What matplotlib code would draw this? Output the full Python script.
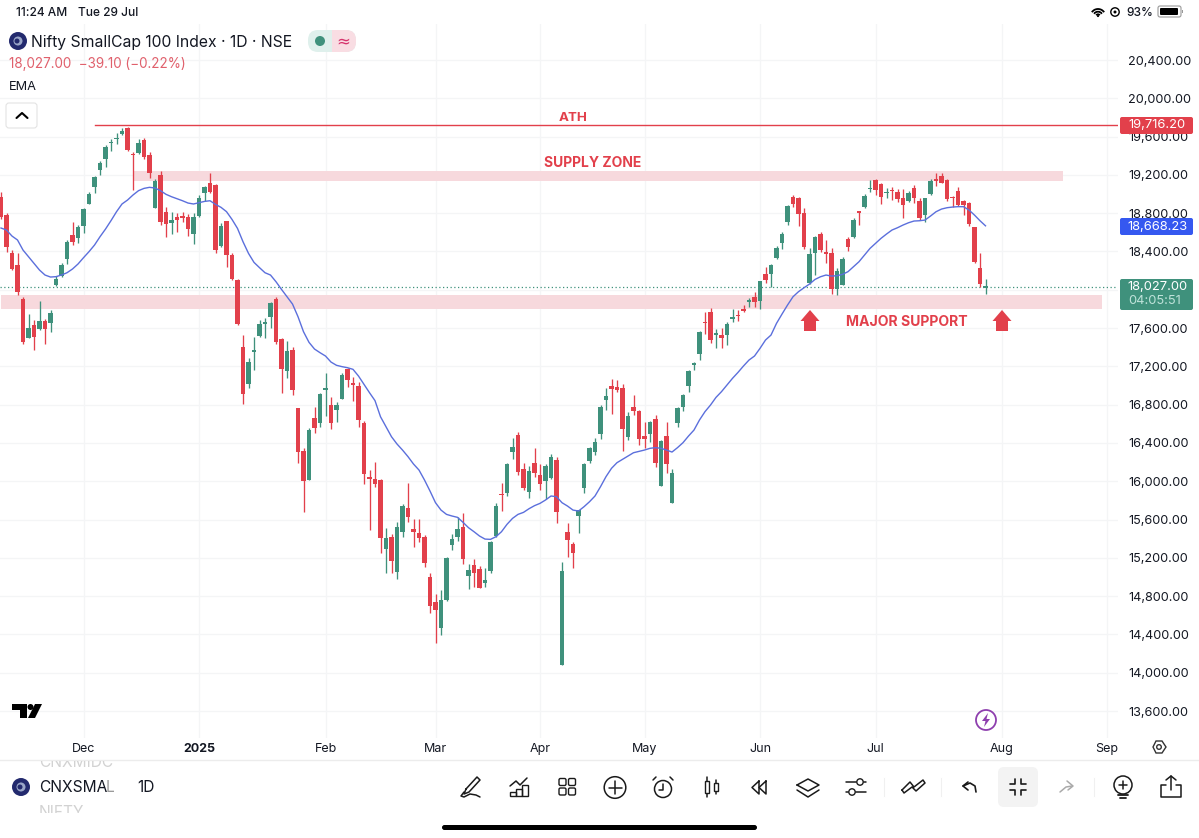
import matplotlib
matplotlib.use("Agg")
import matplotlib.pyplot as plt
from matplotlib.patches import Rectangle, FancyBboxPatch, Circle, Polygon, Arc
from matplotlib.transforms import Bbox

plt.rcParams['font.family'] = ['Inter', 'DejaVu Sans']

# daily candles
opens = [18972,18781,18387,18258,17900,17499,17632,17586,17670,17649,
         18049,18147,18318,18572,18540,18666,18899,19070,19251,19369,
         19529,19571,19627,19690,19421,19425,19561,19407,18857,19195,
         18816,18701,18763,18767,18760,18586,18774,19014,19112,19094,
         18460,18715,18363,18098,17402,17012,17350,17517,17639,17719,
         17903,17485,17155,17367,16761,16312,16016,16664,16612,16953,
         16793,16748,16859,17169,17016,16995,16612,16034,16020,16013,
         15289,15417,15055,15470,15724,15501,15459,15421,15003,14735,
         14463,14759,15334,15414,15522,15007,15125,15087,14937,15062,
         15428,15863,15880,16305,16483,16131,15891,16190,16062,16002,
         16030,16218,14080,15466,15344,15640,15929,16211,16309,16490,
         16848,16995,16981,16970,16462,16772,16737,16472,16497,16647,
         15954,16472,15769,16612,16779,16995,17211,17329,17663,17768,
         17524,17531,17527,17698,17736,17792,17876,17921,17886,18164,
         18164,18328,18484,18704,18965,18955,18805,18070,18384,18582,
         18390,18380,18004,18053,18526,18554,18815,18868,19052,19146,
         19101,19007,19045,19021,18955,18923,19063,18923,18780,19000,
         19146,19191,19146,18972,19035,18930,18909,18652,18230,18021]
highs = [19025,18798,18415,18380,17928,17743,17684,17886,17691,17788,
         18147,18283,18520,18704,18676,18850,19025,19192,19348,19512,
         19575,19634,19693,19696,19442,19571,19589,19435,19153,19237,
         18861,18816,18805,18816,18788,18805,18990,19084,19216,19105,
         18694,18722,18387,18109,17524,17290,17503,17684,17701,17875,
         17928,17492,17465,17405,16768,16344,16553,16772,16918,17127,
         16876,16831,17134,17179,17092,17040,16626,16117,16204,16023,
         15508,15445,15571,15759,15978,15602,15602,15438,15045,14822,
         14864,15205,15449,15623,15665,15132,15184,15118,15090,15376,
         15776,15978,16194,16455,16518,16194,16159,16347,16176,16176,
         16281,16250,15160,15560,15362,15699,16194,16361,16448,16796,
         16977,17064,17057,17012,16727,16897,16744,16615,16629,16692,
         16431,16622,16124,16779,16911,17162,17249,17569,17764,17810,
         17594,17601,17663,17799,17789,17841,17910,17973,18095,18234,
         18269,18457,18606,18885,18989,18972,18857,18432,18561,18606,
         18519,18432,18223,18338,18554,18746,18822,18996,19146,19153,
         19111,19059,19069,19052,19052,19031,19090,18962,18962,19153,
         19216,19223,19153,18979,19069,18937,18920,18659,18387,18112]
lows = [18735,18398,18206,17945,17430,17492,17370,17579,17433,17562,
        18043,18137,18269,18467,18485,18596,18892,19007,19202,19286,
        19453,19519,19613,19449,19042,19418,19369,19164,18850,18673,
        18547,18582,18607,18704,18561,18474,18756,18927,19014,18387,
        18450,18241,18102,17632,16810,16970,17162,17510,17492,17604,
        17430,16918,17082,16904,16187,15682,16009,16507,16570,16681,
        16546,16615,16855,16988,16838,16566,15971,15490,15943,15254,
        15045,15038,14975,15421,15571,15316,15369,15101,14620,14307,
        14394,14752,15278,15379,15132,14871,14899,14881,14892,15045,
        15414,15689,15846,16232,16062,15908,15821,16048,15908,15811,
        16023,15560,14080,15212,15097,15456,15874,16194,16274,16445,
        16744,16699,16936,16319,16427,16695,16382,16351,16413,16152,
        15950,16089,15769,16566,16734,16929,17158,17263,17534,17447,
        17395,17395,17423,17667,17674,17764,17816,17816,17795,18067,
        18025,18321,18425,18676,18861,18666,18429,18063,18154,18397,
        18276,17955,17945,18049,18408,18544,18676,18857,19024,18989,
        18899,18962,18937,18920,18753,18916,18909,18728,18704,18993,
        19087,19111,18930,18868,18878,18780,18669,18276,18032,17952]
closes = [18756,18443,18220,17980,17458,17597,17503,17670,17593,17754,
          18112,18258,18502,18502,18652,18843,19000,19174,19327,19488,
          19540,19585,19658,19460,19407,19529,19390,19223,19136,18708,
          18683,18725,18725,18753,18634,18763,18962,19077,19024,18415,
          18669,18359,18109,17642,16914,17249,17360,17639,17666,17865,
          17451,17169,17360,16956,16305,16006,16539,16553,16908,16974,
          16612,16796,17106,17054,17009,16643,16072,16027,15971,15403,
          15410,15167,15522,15741,15630,15470,15403,15149,14700,14655,
          14756,15198,15393,15497,15191,15069,15038,14888,14965,15369,
          15738,15856,16180,16361,16100,15933,16110,16089,15975,16163,
          16250,15675,15062,15383,15247,15699,16180,16351,16406,16775,
          16890,16963,16953,16546,16678,16730,16441,16438,16615,16187,
          16417,16180,16082,16768,16904,17148,17238,17562,17649,17479,
          17545,17496,17642,17709,17722,17782,17890,17876,18095,18105,
          18258,18432,18585,18871,18892,18791,18450,18370,18547,18411,
          18373,18007,18192,18317,18443,18728,18805,18979,19066,19042,
          18972,19017,19031,18944,18888,19007,18958,18746,18955,19136,
          19136,19118,18948,18958,18885,18885,18683,18293,18056,18028]
ema = [18645,18624,18561,18520,18415,18345,18276,18206,18154,18133,
       18137,18154,18178,18217,18269,18335,18398,18467,18554,18634,
       18722,18815,18896,18937,18990,19035,19059,19070,19063,19035,
       18997,18972,18951,18930,18906,18896,18910,18923,18930,18892,
       18861,18816,18735,18641,18502,18380,18286,18231,18178,18154,
       18084,18004,17928,17851,17719,17562,17451,17381,17343,17308,
       17245,17211,17197,17186,17169,17099,17012,16925,16842,16674,
       16570,16465,16389,16326,16257,16180,16117,16013,15898,15776,
       15699,15654,15637,15623,15571,15515,15473,15428,15396,15393,
       15421,15473,15550,15612,15654,15675,15713,15745,15769,15804,
       15846,15839,15776,15741,15699,15689,15734,15786,15846,15943,
       16048,16135,16194,16229,16263,16298,16312,16326,16344,16351,
       16344,16326,16305,16351,16403,16472,16535,16640,16727,16796,
       16876,16936,17005,17075,17137,17204,17266,17308,17388,17475,
       17527,17649,17746,17840,17927,17980,18021,18060,18108,18136,
       18154,18143,18147,18161,18189,18241,18293,18363,18432,18484,
       18537,18582,18624,18648,18676,18700,18718,18721,18728,18770,
       18815,18843,18857,18864,18868,18868,18833,18780,18721,18668]

month_bars = [15, 36, 59, 79, 98, 117, 138, 159, 182, 201]
month_labels = ['Dec', '2025', 'Feb', 'Mar', 'Apr', 'May', 'Jun', 'Jul', 'Aug', 'Sep']
price_ticks = list(range(13600, 20800, 400))
ath = 19716.20
last_price = 18027.00

GREEN = '#3f917c'
RED = '#e2404b'
ZONE = '#f7d9dd'
BLUE = '#5b6fdc'
INK = '#131722'
GRID = '#f4f5f6'
W, H = 1199, 838

fig = plt.figure(figsize=(W / 100, H / 100), dpi=100, facecolor='white')
# price pane: 5.5 px per bar, 10.445 points per px
ax = fig.add_axes([0, 1 - 738 / H, 1118 / W, (738 - 24) / H])
ax.set_xlim(-1 / 5.5, 1117 / 5.5)
ax.set_ylim(20400 - 678 * 10.445, 20400 + 36 * 10.445)
for s in ax.spines.values():
    s.set_visible(False)
ax.set_axisbelow(True)
ax.grid(True, color=GRID, lw=0.9)
ax.yaxis.tick_right()
ax.set_yticks(price_ticks)
# 18,000 sits under the last price tag
ax.set_yticklabels(['' if p == 18000 else f'{p:,.2f}' for p in price_ticks], fontsize=9.1, color=INK)
ax.set_xticks(month_bars)
ax.set_xticklabels(month_labels, fontsize=9, color=INK)
ax.get_xticklabels()[1].set_fontweight('bold')
ax.tick_params(axis='y', length=0, pad=7.5)
ax.tick_params(axis='x', length=0, pad=3.5)

# zones and levels
ax.add_patch(Rectangle((24, 19133), 169, 107, fc=ZONE, ec='none', zorder=1))
ax.add_patch(Rectangle((0, 17799), 200.2, 146, fc=ZONE, ec='none', zorder=1))
ax.plot([17, 203.1], [ath, ath], color=RED, lw=1.0, zorder=2)
ax.axhline(last_price, color=GREEN, lw=0.9, ls=(0, (1, 2)), zorder=2)

# candles
bars = list(range(len(opens)))
colors = [GREEN if c >= o else RED for o, c in zip(opens, closes)]
ax.vlines(bars, lows, highs, colors=colors, lw=0.95, zorder=3)
bottoms = [min(o, c) for o, c in zip(opens, closes)]
heights = [max(abs(c - o), 16) for o, c in zip(opens, closes)]
ax.bar(bars, heights, bottom=bottoms, width=0.8, color=colors, lw=0, zorder=4)
ax.plot(bars, ema, color=BLUE, lw=1.0, zorder=5)

ax.text(104, 19790, 'ATH', color=RED, fontsize=9.6, fontweight='bold', ha='center', va='center')
ax.text(107.5, 19320, 'SUPPLY ZONE', color=RED, fontsize=10, fontweight='bold', ha='center', va='center')
ax.text(164.7, 17663, 'MAJOR SUPPORT', color=RED, fontsize=10.1, fontweight='bold', ha='center', va='center')

# everything around the chart sits on a pixel overlay
ui = fig.add_axes([0, 0, 1, 1], facecolor='none')
ui.set_xlim(0, W)
ui.set_ylim(H, 0)
ui.axis('off')

def label(x, y, s, size=9.5, color=INK, ha='left', **kw):
    return ui.text(x, y, s, fontsize=size, color=color, ha=ha, va='center', **kw)

def stroke(xs, ys, lw=1.1, color='#1a1a1a'):
    ui.plot(xs, ys, color=color, lw=lw, solid_capstyle='round', solid_joinstyle='round')

def box(x, y, w, h, fc, ec='none', r=2, lw=0.8):
    ui.add_patch(FancyBboxPatch((x + r, y + r), w - 2 * r, h - 2 * r, boxstyle=f'round,pad={r}',
                                fc=fc, ec=ec, lw=lw))

def logo(x, y):
    ui.add_patch(Circle((x, y), 9, fc='#232a6e', ec='none'))
    ui.add_patch(Circle((x, y), 4.5, fc='#9aa6c8', ec='none'))
    ui.add_patch(Circle((x - 1, y), 2.5, fc='#232a6e', ec='none'))

def clip_rows(text, top, bottom):
    # top and bottom in picture pixels from the top edge
    text.set_clip_box(Bbox([[0, H - bottom], [W, H - top]]))
    text.set_clip_on(True)

# support arrows
for mid in (810, 1002):
    ui.add_patch(Polygon([(mid, 310), (mid + 9.5, 321), (mid + 6, 321), (mid + 6, 331),
                          (mid - 6, 331), (mid - 6, 321), (mid - 9.5, 321)], fc=RED, ec='none'))

# status bar
label(16, 12.5, '11:24 AM', 8.6, fontweight='medium')
label(78, 12.5, 'Tue 29 Jul', 8.6, fontweight='medium')
label(1126, 12.5, '93%', 8.6, fontweight='medium')
for r in (7.5, 4.8, 2.2):
    ui.add_patch(Arc((1098, 16.5), 2 * r, 2 * r, theta1=215, theta2=325, color='black', lw=1.3))
ui.add_patch(Circle((1098, 16), 1.1, fc='black', ec='none'))
ui.add_patch(Circle((1115, 12), 4.2, fc='white', ec='black', lw=1))
ui.add_patch(Circle((1115, 12), 1.5, fc='black', ec='none'))
box(1158, 6, 23, 11, 'white', '#999999', r=2)
box(1160, 8, 18, 7, 'black', r=1)
ui.add_patch(Rectangle((1181.5, 10), 1, 3, fc='#999999', ec='none'))

# header
logo(18, 41)
label(31, 42, 'Nifty SmallCap 100 Index · 1D · NSE', 11.3)
box(308, 30, 48, 22, '#dff0ec', r=10)
box(332, 30, 24, 22, '#f9dde3', r=10)
ui.add_patch(Rectangle((332, 30), 10, 22, fc='#f9dde3', ec='none'))
ui.add_patch(Circle((320, 41), 5, fc=GREEN, ec='none'))
label(343, 41, '≈', 12, '#d6336c', ha='center', family=['DejaVu Sans'])
label(9, 64, '18,027.00  −39.10 (−0.22%)', 9.7, '#e0606c')
label(9, 87, 'EMA', 9.2)
box(6, 103, 31, 25, 'white', '#e3e3e3', r=3)
stroke([16.5, 22, 27.5], [118, 113, 118], lw=1.5, color='black')

# price tags
box(1120, 117, 73, 17, RED)
label(1157, 125.5, '19,716.20', 9.3, 'white', ha='center')
box(1120, 218, 73, 17, '#3558f0')
label(1157, 226.5, '18,668.23', 9.3, 'white', ha='center')
box(1120, 279, 73, 31, GREEN)
label(1157, 287, '18,027.00', 9.3, 'white', ha='center')
label(1128, 301, '04:05:51', 9.3, '#bfe3da')

# tradingview mark, alert, settings
ui.add_patch(Polygon([(12, 704), (27, 704), (27, 718), (20, 718), (20, 710), (12, 710)], fc='black', ec='none'))
ui.add_patch(Circle((30.5, 707), 3, fc='black', ec='none'))
ui.add_patch(Polygon([(35, 704), (42, 704), (35, 718), (28, 718)], fc='black', ec='none'))
ui.add_patch(Circle((986, 720), 10, fc='white', ec='#8e3fae', lw=1.3))
ui.add_patch(Polygon([(988, 713), (982, 721), (985.5, 721), (984, 727), (990, 719), (986.5, 719)], fc='#8e3fae', ec='none'))
ui.add_patch(Polygon([(1153, 747), (1156, 741), (1162, 741), (1166, 747), (1162, 753), (1156, 753)],
                     fc='white', ec='#333333', lw=1))
ui.add_patch(Circle((1159, 747), 2.3, fc='white', ec='#333333', lw=1))

# bottom toolbar
ui.plot([0, W], [760, 760], color='#ececec', lw=1)
for sep in (884, 941, 1094):
    ui.plot([sep, sep], [778, 796], color='#f0f0f0', lw=0.8)
logo(21, 787)
label(39, 787, 'CNXSMA', 11.2)
label(106, 787, 'L', 11.2, '#9a9a9a')
label(137, 787, '1D', 11.2)
# neighbouring rows of the symbol wheel, cut off by its edges
clip_rows(label(39, 762, 'CNXMIDC', 11.2, '#d2d2d2'), 761, 775)
clip_rows(label(39, 812.5, 'NIFTY', 11.2, '#d2d2d2'), 800, 813)

stroke([466, 477, 480, 469, 464, 466], [789, 777, 780, 792, 794, 789])  # pencil
stroke([464, 461, 464, 470, 476, 480], [792, 796, 797, 794, 795, 797])
stroke([510, 516, 520, 527], [786, 781, 785, 778])                # chart
for x0, hh in ((510, 4), (516, 7), (522, 11)):
    ui.add_patch(Rectangle((x0, 796 - hh), 5.5, hh, fc='none', ec='#1a1a1a', lw=1))
for xx in (559, 568.5):                                            # grid
    for yy in (778.5, 788):
        box(xx, yy, 7, 7, 'none', '#1a1a1a', r=1.5, lw=1)
ui.add_patch(Circle((615, 787.5), 10.8, fc='none', ec='#1a1a1a', lw=1.1))  # plus
stroke([615, 615], [781, 794])
stroke([608.5, 621.5], [787.5, 787.5])
ui.add_patch(Circle((663, 789), 8.5, fc='none', ec='#1a1a1a', lw=1.1))     # alarm
stroke([663, 663, 659], [784, 790, 790])
stroke([653, 656], [780, 777])
stroke([673, 670], [780, 777])
stroke([707, 707], [777, 797])                                     # candles
ui.add_patch(Rectangle((705, 781), 4, 12, fc='white', ec='#1a1a1a', lw=1, zorder=3))
stroke([716, 716], [780, 794])
ui.add_patch(Rectangle((714, 783), 4, 8, fc='white', ec='#1a1a1a', lw=1, zorder=3))
stroke([759, 752, 759, 759], [781, 787.5, 794, 781])               # rewind
stroke([766, 759, 766, 766], [781, 787.5, 794, 781])
stroke([797, 808, 819, 808, 797], [785, 779, 785, 791, 785])       # layers
stroke([797, 808, 819], [790, 797, 790])
stroke([846, 856], [782, 782])                                     # sliders
stroke([864, 866], [782, 782])
stroke([846, 848], [792, 792])
stroke([856, 866], [792, 792])
ui.add_patch(Circle((860, 782), 3.2, fc='none', ec='#1a1a1a', lw=1))
ui.add_patch(Circle((852, 792), 3.2, fc='none', ec='#1a1a1a', lw=1))
stroke([902, 910, 914, 923, 925, 916, 912, 904, 902], [790, 782, 787, 780, 783, 791, 787, 793, 790])  # drawings
stroke([963, 970, 975, 976], [786, 783, 786, 792], lw=1.2)          # undo
stroke([968, 963, 968], [782, 786, 790], lw=1.2)
box(998, 767, 40, 40, '#f3f3f3', r=6)
for sx, sy in ((-1, -1), (1, -1), (-1, 1), (1, 1)):                 # shrink
    stroke([1018 + sx * 8, 1018 + sx * 3, 1018 + sx * 3], [787 + sy * 3, 787 + sy * 3, 787 + sy * 8], lw=1.2)
stroke([1060, 1066, 1072], [792, 787, 786], color='#aaaaaa')        # redo
stroke([1067, 1073, 1068], [781, 786, 790], color='#aaaaaa')
ui.add_patch(Circle((1123, 785), 9, fc='none', ec='#1a1a1a', lw=1.1))      # bulb
stroke([1123, 1123], [781, 789])
stroke([1119, 1127], [785, 785])
stroke([1118, 1128], [795, 795], lw=1.3)
stroke([1120, 1126], [798, 798], lw=1.3)
stroke([1166, 1161, 1161, 1181, 1181, 1176], [785, 785, 797, 797, 785, 785])  # share
stroke([1171, 1171], [790, 776])
stroke([1166, 1171, 1176], [780, 776, 780])
box(442, 825, 315, 5, 'black', r=2.5)

fig.savefig('out.png', dpi=100)
